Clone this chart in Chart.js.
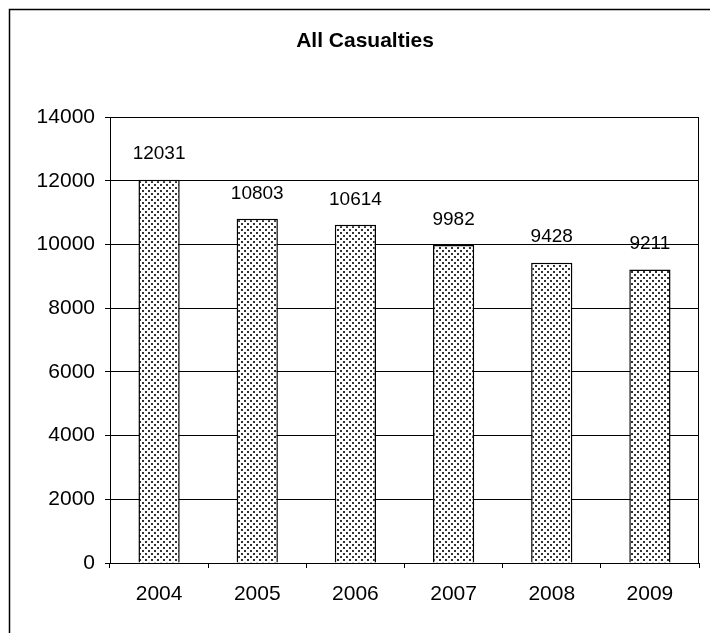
<!DOCTYPE html>
<html>
<head>
<meta charset="utf-8">
<script src="https://cdn.jsdelivr.net/npm/chart.js@4.4.0/dist/chart.umd.min.js"></script>
<style>
  html, body { margin: 0; padding: 0; background: #fff; }
  #wrap { width: 710px; height: 633px; position: relative; }
</style>
</head>
<body>
<div id="wrap"><canvas id="myChart" width="710" height="633"></canvas></div>
<script>
// data
const years = ["2004", "2005", "2006", "2007", "2008", "2009"];
const casualties = [12031, 10803, 10614, 9982, 9428, 9211];
const yTicks = [0, 2000, 4000, 6000, 8000, 10000, 12000, 14000];
const chartTitle = "All Casualties";

const FONT = "'Liberation Sans', Arial, sans-serif";

// dotted fill like the old excel pattern
function dotPattern() {
  const c = document.createElement("canvas");
  c.width = 6;
  c.height = 6;
  const g = c.getContext("2d");
  g.fillStyle = "#fff";
  g.fillRect(0, 0, 6, 6);
  g.fillStyle = "#333";
  g.fillRect(1, 1, 2, 2);
  g.fillRect(4, 4, 2, 2);
  return g.createPattern(c, "repeat");
}

// outer frame (left + top only), title, plot box and value labels
const extras = {
  id: "extras",
  beforeDraw(chart) {
    const ctx = chart.ctx;
    ctx.save();
    ctx.strokeStyle = "#000";
    ctx.lineWidth = 1.5;
    ctx.beginPath();
    ctx.moveTo(9.5, 633);
    ctx.lineTo(9.5, 9.5);
    ctx.lineTo(710, 9.5);
    ctx.stroke();

    ctx.fillStyle = "#000";
    ctx.font = "bold 21px " + FONT;
    ctx.textAlign = "center";
    ctx.textBaseline = "middle";
    ctx.fillText(chartTitle, 365, 41);
    ctx.restore();
  },
  afterDatasetsDraw(chart) {
    const ctx = chart.ctx;
    const a = chart.chartArea;
    ctx.save();
    ctx.strokeStyle = "#000";
    ctx.lineWidth = 1;
    ctx.beginPath();
    ctx.moveTo(a.left, a.top + 0.5);
    ctx.lineTo(a.right - 0.5, a.top + 0.5);
    ctx.lineTo(a.right - 0.5, a.bottom);
    ctx.stroke();

    ctx.fillStyle = "#000";
    ctx.font = "19px " + FONT;
    ctx.textAlign = "center";
    ctx.textBaseline = "bottom";
    const meta = chart.getDatasetMeta(0);
    meta.data.forEach((bar, i) => {
      ctx.fillText(String(casualties[i]), bar.x, bar.y - 16);
    });
    ctx.restore();
  },
};

const data = {
  labels: years,
  datasets: [
    {
      label: chartTitle,
      data: casualties,
      backgroundColor: dotPattern(),
      borderColor: "#000",
      borderWidth: 1.5,
      barPercentage: 0.42,
      categoryPercentage: 1,
    },
  ],
};

const config = {
  type: "bar",
  data,
  options: {
    responsive: false,
    animation: false,
    layout: { padding: { left: 0, right: 11, top: 117, bottom: 0 } },
    plugins: {
      legend: { display: false },
      tooltip: { enabled: false },
      title: { display: false },
    },
    scales: {
      x: {
        grid: {
          display: true,
          drawOnChartArea: false,
          offset: true,
          tickLength: 5,
          color: "#000",
        },
        border: { display: true, color: "#000", width: 1 },
        ticks: { color: "#000", font: { family: FONT, size: 21 }, padding: 14 },
        afterFit(scale) {
          scale.height = 70;
        },
      },
      y: {
        min: 0,
        max: 14000,
        afterBuildTicks(scale) {
          scale.ticks = yTicks.map((v) => ({ value: v }));
        },
        grid: { color: "#000", lineWidth: 1, tickLength: 5 },
        border: { display: true, color: "#000", width: 1 },
        ticks: {
          color: "#000",
          font: { family: FONT, size: 21 },
          padding: 10,
          callback: (v) => String(v),
        },
        afterFit(scale) {
          scale.width = 110;
        },
      },
    },
  },
  plugins: [extras],
};

const myChart = new Chart(document.getElementById("myChart"), config);
</script>
</body>
</html>
